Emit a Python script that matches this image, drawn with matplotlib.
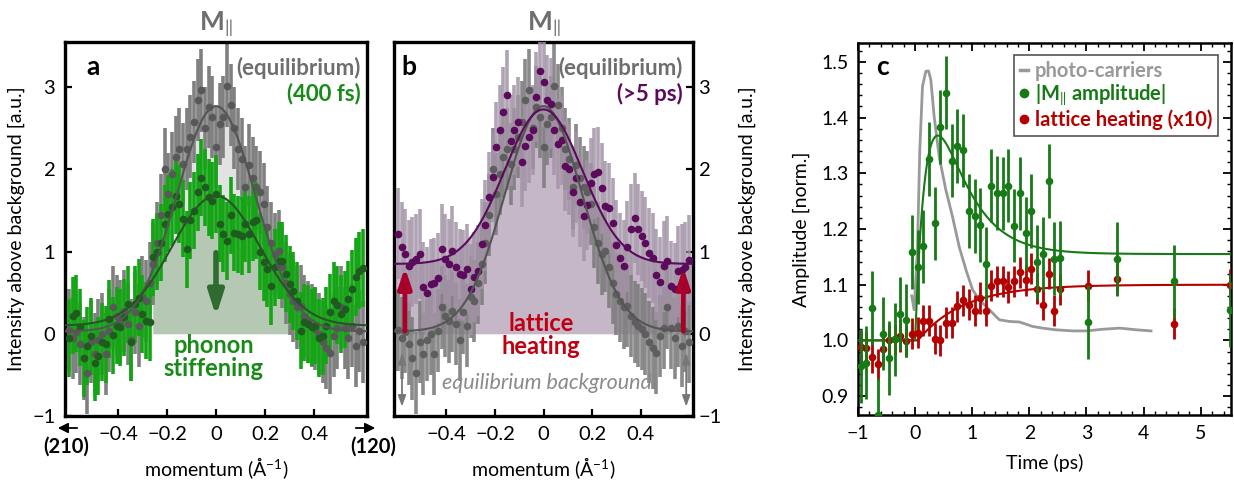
import numpy as np
import matplotlib
matplotlib.use("Agg")
import matplotlib.pyplot as plt
from matplotlib.lines import Line2D
from matplotlib.patches import FancyArrowPatch
from matplotlib.ticker import MultipleLocator, FormatStrFormatter

plt.rcParams.update({
    "font.family": ["Lato", "DejaVu Sans"],
    "font.size": 13,
    "mathtext.fontset": "custom",
    "mathtext.rm": "Lato",
    "mathtext.bf": "Lato:bold",
    "mathtext.it": "Lato:italic",
    "axes.unicode_minus": True,
})

# ---- colores ----
GRIS_BAR = "#808080"
GRIS_PT = "#585858"
GRIS_TXT = "#6e6e6e"
VERDE_BAR = "#14a514"
VERDE_PT = "#1f5a1f"
VERDE_TXT = "#178a17"
MORADO = "#5c0a5c"
MORADO_BAR = "#a393a6"
MALVA = "#c5b6c8"
ROJO = "#b50000"
VERDE_C = "#177a17"
GRIS_C = "#999999"

# ---- datos paneles a y b: momento (1/Å) ----
q = np.linspace(-0.6, 0.6, 81)

eq_vals = [0.05, -0.05, 0.02, -0.12, -0.30, -0.48, -0.10, -0.25, -0.08, 0.00,
           -0.25, 0.04, 0.32, 0.22, 0.15, 0.28, 0.12, -0.08, 0.26, 0.10,
           0.45, 0.40, 0.62, 0.85, 1.10, 1.45, 2.00, 1.70, 1.95, 2.15,
           2.25, 2.07, 2.25, 2.40, 2.58, 2.84, 2.96, 2.50, 2.76, 2.64,
           2.27, 2.55, 2.64, 3.02, 2.78, 2.50, 2.25, 2.13, 1.78, 2.05,
           1.90, 1.78, 1.72, 1.58, 1.30, 1.10, 0.97, 1.01, 0.81, 0.62,
           0.48, 0.40, 0.32, 0.34, 0.22, 0.14, 0.10, 0.06, 0.00, -0.10,
           -0.17, -0.23, -0.03, 0.07, 0.32, 0.07, -0.05, 0.10, -0.15, 0.03,
           -0.10]
fs400_vals = [-0.05, 0.22, 0.25, 0.08, -0.30, -0.15, -0.03, -0.35, -0.27, -0.10,
              -0.13, 0.18, -0.02, 0.10, 0.08, 0.20, 0.36, -0.10, 0.36, 0.44,
              0.24, 0.16, 0.14, 0.93, 1.00, 1.11, 1.34, 1.46, 1.54, 1.68,
              1.58, 1.40, 1.03, 1.38, 1.50, 1.72, 1.90, 1.78, 1.66, 1.62,
              1.70, 1.34, 1.22, 1.13, 1.44, 1.23, 1.21, 1.19, 1.34, 1.21,
              1.36, 1.38, 1.00, 0.87, 0.79, 0.58, 0.81, 0.89, 0.89, 0.73,
              0.60, 0.52, 0.40, 0.04, 0.14, 0.12, 0.08, 0.10, -0.05, -0.03,
              0.10, 0.26, 0.40, 0.35, 0.24, 0.30, 0.42, 0.55, 0.69, 0.77,
              0.80]
ps5_vals = [1.22, 1.05, 0.97, 0.83, 0.87, 0.91, 0.97, 0.57, 0.50, 0.60,
            0.62, 0.68, 1.03, 0.91, 0.85, 1.01, 0.81, 0.73, 0.71, 0.79,
            0.54, 0.69, 0.77, 1.09, 1.32, 1.66, 1.91, 2.27, 2.48, 2.70,
            2.90, 2.35, 2.48, 2.58, 2.09, 2.29, 2.39, 2.48, 2.88, 3.20,
            3.06, 2.84, 2.80, 2.48, 2.31, 2.36, 2.04, 2.00, 1.73, 1.90,
            1.60, 1.43, 1.57, 1.83, 1.95, 1.97, 1.77, 1.55, 1.53, 1.35,
            1.08, 0.92, 0.83, 1.06, 1.27, 1.41, 1.27, 1.19, 1.11, 0.98,
            0.92, 0.72, 0.63, 0.82, 0.88, 0.58, 0.55, 0.76, 0.78, 0.81,
            0.90]
EQ_ERR = 0.50
FS400_ERR = 0.47
PS5_ERR = 0.55

# ajustes (amplitud, sigma, fondo)
EQ_FIT = (2.74, 0.16, 0.03)
FS400_FIT = (1.58, 0.18, 0.10)
PS5_FIT = (1.88, 0.16, 0.85)

# ---- datos panel c: tiempo (ps) ----
t_m = [-0.95, -0.855, -0.756, -0.651, -0.558, -0.453, -0.355, -0.256, -0.157, -0.058,
       0.047, 0.145, 0.244, 0.343, 0.442, 0.541, 0.640, 0.738, 0.837, 0.936,
       1.041, 1.140, 1.238, 1.337, 1.436, 1.535, 1.634, 1.733, 1.837, 1.936,
       2.035, 2.134, 2.233, 2.337, 2.436, 2.535, 3.035, 3.535, 4.535, 5.52]
amp_m = [0.954, 0.960, 1.058, 0.866, 1.012, 0.968, 1.002, 1.048, 1.036, 1.159,
         1.132, 1.169, 1.326, 1.210, 1.383, 1.445, 1.323, 1.349, 1.341, 1.232,
         1.223, 1.207, 1.138, 1.278, 1.265, 1.264, 1.278, 1.206, 1.264, 1.192,
         1.232, 1.141, 1.155, 1.286, 1.147, 1.148, 1.033, 1.146, 1.106, 1.054]
heat = [0.988, 0.987, 0.970, 0.957, 0.984, 1.001, 1.002, 1.008, 0.999, 1.012,
        1.014, 1.035, 1.035, 1.003, 1.000, 1.032, 1.032, 1.061, 1.072, 1.064,
        1.053, 1.076, 1.053, 1.098, 1.106, 1.106, 1.096, 1.106, 1.122, 1.108,
        1.129, 1.093, 1.064, 1.120, 1.053, 1.092, 1.098, 1.110, 1.030, 1.100]
M_ERR = 0.066
HEAT_ERR = 0.028

# foto-portadores
t_pc = [-0.06, -0.018, 0.04, 0.082, 0.129, 0.187, 0.234, 0.275, 0.333, 0.421,
        0.538, 0.655, 0.772, 0.889, 1.006, 1.123, 1.24, 1.357, 1.474, 1.649,
        1.825, 2.06, 2.23, 2.46, 2.76, 2.99, 3.29, 3.58, 3.87, 4.13]
pc = [1.08, 1.055, 1.162, 1.342, 1.456, 1.483, 1.484, 1.468, 1.402, 1.330,
      1.270, 1.222, 1.168, 1.127, 1.091, 1.073, 1.061, 1.049, 1.037, 1.034,
      1.033, 1.025, 1.022, 1.019, 1.017, 1.017, 1.020, 1.022, 1.019, 1.017]

# ajustes temporales
M_FIT = dict(t0=0.0, rise=0.4, decay=0.5, a=0.95, b=0.155)
HEAT_FIT = dict(t0=0.05, tau=0.8, amp=0.10)


def gauss(x, amp, sig, base):
    return base + amp * np.exp(-x**2 / (2 * sig**2))


W, H = 1234, 487
fig = plt.figure(figsize=(W / 100, H / 100), dpi=100)


def box(l, t, r, b):
    return [l / W, 1 - b / H, (r - l) / W, (b - t) / H]


def style_ab(ax, right=False):
    ax.set_xlim(-0.616, 0.616)
    ax.set_ylim(-1, 3.55)
    ax.set_xticks([-0.4, -0.2, 0, 0.2, 0.4])
    ax.set_xticklabels(["\u22120.4", "\u22120.2", "0", "0.2", "0.4"])
    ax.set_yticks([-1, 0, 1, 2, 3])
    for sp in ax.spines.values():
        sp.set_linewidth(2.4)
    ax.tick_params(direction="in", length=5, width=1.6, labelsize=14.5,
                   top=False, pad=7)
    if right:
        ax.yaxis.tick_right()
        ax.yaxis.set_label_position("right")
        ax.tick_params(axis="y", pad=4)
    ax.set_xlabel("momentum (Å$^{-1}$)", labelpad=9, fontsize=14)
    ax.set_ylabel("Intensity above background [a.u.]",
                  labelpad=12 if right else 5, fontsize=14)


qf = np.linspace(-0.616, 0.616, 600)

# ============ panel a ============
axa = fig.add_axes(box(65, 42, 367, 416))
fit_eq = gauss(qf, *EQ_FIT)
fit_fs = gauss(qf, *FS400_FIT)
zona = (qf >= -0.26) & (qf <= 0.31)
axa.fill_between(qf, 0, fit_fs, where=zona, color="#b4c8b4", lw=0, zorder=1)
axa.fill_between(qf, fit_fs, fit_eq, where=zona, color="#e2e2e2", lw=0, zorder=1)
axa.errorbar(q, eq_vals, yerr=EQ_ERR, fmt="none", ecolor=GRIS_BAR,
             elinewidth=2.6, zorder=2)
axa.errorbar(q, fs400_vals, yerr=FS400_ERR, fmt="none", ecolor=VERDE_BAR,
             elinewidth=2.6, zorder=3)
axa.plot(q, eq_vals, "o", ms=5.5, color=GRIS_PT, mec="none", zorder=4)
axa.plot(q, fs400_vals, "o", ms=5.5, color=VERDE_PT, mec="none", zorder=5)
axa.plot(qf, fit_eq, color="#555555", lw=1.5, zorder=6)
axa.plot(qf, fit_fs, color="#2a522a", lw=1.5, zorder=6)
axa.annotate("", xy=(0, 0.18), xytext=(0, 1.02),
             arrowprops=dict(arrowstyle="-|>,head_width=0.35,head_length=1.1",
                             color="#2f6a2f", lw=4), zorder=7)
axa.text(0.093, 0.933, "a", transform=axa.transAxes, fontsize=19,
         fontweight="bold", va="center", ha="center")
axa.text(0.98, 0.93, "(equilibrium)", transform=axa.transAxes, ha="right",
         va="center", fontweight="bold", color=GRIS_TXT, fontsize=16)
axa.text(0.98, 0.862, "(400 fs)", transform=axa.transAxes, ha="right",
         va="center", fontweight="bold", color=VERDE_TXT, fontsize=16)
axa.text(-0.01, -0.28, "phonon\nstiffening", ha="center", va="center",
         fontweight="bold", color=VERDE_TXT, fontsize=17, linespacing=1.0,
         zorder=8)
axa.text(0, 3.76, r"M$_{\Vert}$", ha="center", va="center", fontsize=19,
         fontweight="bold", color=GRIS_TXT, clip_on=False)
style_ab(axa)

# flechas de dirección bajo el panel a
for x0, x1 in ((80, 55), (353, 378)):
    fig.add_artist(FancyArrowPatch(
        (x0 / W, 1 - 428 / H), (x1 / W, 1 - 428 / H), transform=fig.transFigure,
        arrowstyle="-|>,head_width=3,head_length=6", color="black", lw=1.3))
fig.text(66 / W, 1 - 447 / H, "(210)", ha="center", va="center",
         fontweight="bold", fontsize=14.5)
fig.text(373 / W, 1 - 447 / H, "(120)", ha="center", va="center",
         fontweight="bold", fontsize=14.5)

# ============ panel b ============
axb = fig.add_axes(box(394, 42, 693, 416))
fit_ps = gauss(qf, *PS5_FIT)
axb.fill_between(qf, 0, fit_ps, color=MALVA, lw=0, zorder=1)
axb.errorbar(q, eq_vals, yerr=EQ_ERR, fmt="none", ecolor="#7d7d7d",
             elinewidth=2.6, alpha=0.9, zorder=2)
axb.errorbar(q, ps5_vals, yerr=PS5_ERR, fmt="none", ecolor=MORADO_BAR,
             elinewidth=2.6, alpha=0.85, zorder=3)
axb.plot(q, eq_vals, "o", ms=5.5, color="#5e5e5e", mec="none", zorder=4)
axb.plot(q, ps5_vals, "o", ms=5.5, color=MORADO, mec="none", zorder=5)
axb.plot(qf, fit_eq, color="#555555", lw=1.5, zorder=6)
axb.plot(qf, fit_ps, color=MORADO, lw=1.5, zorder=6)
for xa in (-0.571, 0.576):
    axb.annotate("", xy=(xa, 0.84), xytext=(xa, 0.0),
                 arrowprops=dict(arrowstyle="-|>,head_width=0.3,head_length=0.9",
                                 color="#a8002a", lw=3.5), zorder=7)
    axb.annotate("", xy=(xa + 0.012 * np.sign(xa), -0.92),
                 xytext=(xa + 0.012 * np.sign(xa), -0.2),
                 arrowprops=dict(arrowstyle="<|-|>,head_width=0.18,head_length=0.5",
                                 color="#777777", lw=1.3), zorder=7)
axb.text(0.05, 0.933, "b", transform=axb.transAxes, fontsize=19,
         fontweight="bold", va="center", ha="center")
axb.text(0.965, 0.93, "(equilibrium)", transform=axb.transAxes, ha="right",
         va="center", fontweight="bold", color=GRIS_TXT, fontsize=16)
axb.text(0.965, 0.862, "(>5 ps)", transform=axb.transAxes, ha="right",
         va="center", fontweight="bold", color=MORADO, fontsize=16)
axb.text(-0.01, -0.01, "lattice\nheating", ha="center", va="center",
         fontweight="bold", color="#c00010", fontsize=17, linespacing=1.0,
         zorder=8)
axb.text(0.015, -0.6, "equilibrium background", ha="center", va="center",
         style="italic", color="#8a8a8a", fontsize=15.5, zorder=8)
axb.text(0, 3.76, r"M$_{\Vert}$", ha="center", va="center", fontsize=19,
         fontweight="bold", color=GRIS_TXT, clip_on=False)
style_ab(axb, right=True)

# ============ panel c ============
axc = fig.add_axes(box(858, 43, 1231, 415))
tf = np.linspace(-1, 5.6, 800)
dt = np.clip(tf - M_FIT["t0"], 0, None)
m_curve = 1 + (1 - np.exp(-dt / M_FIT["rise"])) * (
    M_FIT["a"] * np.exp(-dt / M_FIT["decay"]) + M_FIT["b"])
dh = np.clip(tf - HEAT_FIT["t0"], 0, None)
h_curve = 1 + HEAT_FIT["amp"] * (1 - np.exp(-dh / HEAT_FIT["tau"]))

axc.plot(t_pc, pc, color=GRIS_C, lw=2, zorder=2)
axc.plot(tf, h_curve, color=ROJO, lw=1.5, zorder=3)
axc.plot(tf, m_curve, color=VERDE_C, lw=1.5, zorder=3)
axc.errorbar(t_m, heat, yerr=HEAT_ERR, fmt="o", ms=5.5, color=ROJO,
             elinewidth=2, mec="none", zorder=4)
axc.errorbar(t_m, amp_m, yerr=M_ERR, fmt="o", ms=5.5, color=VERDE_C,
             elinewidth=2, mec="none", zorder=5)
axc.set_xlim(-1, 5.53)
axc.set_ylim(0.866, 1.534)
axc.xaxis.set_major_locator(MultipleLocator(1))
axc.xaxis.set_minor_locator(MultipleLocator(0.2))
axc.yaxis.set_major_locator(MultipleLocator(0.1))
axc.yaxis.set_minor_locator(MultipleLocator(0.02))
axc.yaxis.set_major_formatter(FormatStrFormatter("%.1f"))
axc.tick_params(which="both", direction="in", top=True, right=True,
                labelsize=14)
axc.tick_params(which="major", length=6, width=1.3, pad=7)
axc.tick_params(which="minor", length=3, width=1.0)
for sp in axc.spines.values():
    sp.set_linewidth(1.8)
axc.set_xlabel("Time (ps)", labelpad=9, fontsize=14)
axc.set_ylabel("Amplitude [norm.]", labelpad=8, fontsize=14)
axc.text(0.067, 0.935, "c", transform=axc.transAxes, fontsize=19,
         fontweight="bold", va="center", ha="center")

handles = [Line2D([], [], color=GRIS_C, lw=2.5),
           Line2D([], [], ls="none", marker="o", color=VERDE_C, ms=6),
           Line2D([], [], ls="none", marker="o", color=ROJO, ms=6)]
labels = ["photo-carriers", r"|$\mathbf{M}_{\Vert}$ amplitude|",
          "lattice heating (x10)"]
leg = axc.legend(handles, labels, loc="upper right",
                 bbox_to_anchor=(0.992, 0.995), handlelength=0.4,
                 handletextpad=0.3, borderpad=0.3, labelspacing=0.08,
                 fancybox=False, edgecolor="#555555", framealpha=1,
                 prop=dict(weight="bold", size=14.5))
leg.get_frame().set_linewidth(1.2)
for txt, col in zip(leg.get_texts(), [GRIS_C, VERDE_C, ROJO]):
    txt.set_color(col)

fig.savefig("out.png", dpi=100)
